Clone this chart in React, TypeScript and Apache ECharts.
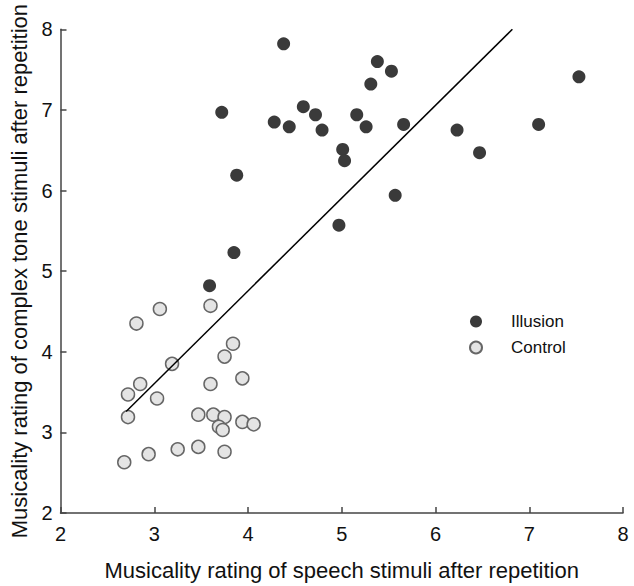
import React, { useEffect, useRef } from "react";
import * as echarts from "echarts";

const illusion: [number, number][] = [
  [4.38, 7.82], [5.38, 7.6], [5.53, 7.48], [5.31, 7.32], [3.72, 6.97],
  [4.59, 7.04], [4.72, 6.94], [5.16, 6.94], [4.28, 6.85], [4.44, 6.79],
  [4.79, 6.75], [5.26, 6.79], [5.66, 6.82], [5.01, 6.51], [5.03, 6.37],
  [3.88, 6.19], [5.57, 5.94], [4.97, 5.57], [7.53, 7.41], [6.23, 6.75],
  [7.1, 6.82], [6.47, 6.47], [3.85, 5.23], [3.59, 4.82],
];

const control: [number, number][] = [
  [3.6, 4.57], [3.06, 4.53], [2.81, 4.35], [3.84, 4.1], [3.75, 3.94],
  [3.19, 3.85], [3.94, 3.67], [2.85, 3.6], [3.6, 3.6], [2.72, 3.47],
  [3.03, 3.42], [2.72, 3.19], [3.47, 3.22], [3.63, 3.22], [3.75, 3.19],
  [3.69, 3.07], [3.73, 3.03], [3.94, 3.13], [4.06, 3.1], [3.47, 2.82],
  [3.25, 2.79], [2.94, 2.73], [3.75, 2.76], [2.68, 2.63],
];

const fitLine: [number, number][] = [
  [2.7, 3.26],
  [6.82, 8.0],
];

const xTitle = "Musicality rating of speech stimuli after repetition";
const yTitle = "Musicality rating of complex tone stimuli after repetition";

export default function App() {
  const ref = useRef<HTMLDivElement>(null);
  useEffect(() => {
    document.body.style.margin = "0";
    if (!ref.current) return;
    const chart = echarts.init(ref.current, null, { renderer: "svg" });
    const font = "Liberation Sans, Arial, sans-serif";
    const axisCommon = {
      min: 2,
      max: 8,
      interval: 1,
      splitLine: { show: false },
      axisLine: { show: true, onZero: false, lineStyle: { color: "#444", width: 1.5 } },
      axisTick: { show: true, inside: true, length: 6, lineStyle: { color: "#444", width: 1.5 } },
      nameLocation: "middle" as const,
      nameTextStyle: { fontFamily: font, fontSize: 22, color: "#111" },
    };
    chart.setOption({
      animation: false,
      backgroundColor: "#fff",
      grid: { left: 60.5, right: 11, top: 29.3, bottom: 62, containLabel: false },
      xAxis: {
        type: "value",
        ...axisCommon,
        name: xTitle,
        nameGap: 46,
        axisLabel: { margin: 11, fontFamily: font, fontSize: 20, color: "#111" },
      },
      yAxis: {
        type: "value",
        ...axisCommon,
        name: yTitle,
        nameGap: 27,
        axisLabel: { margin: 8, fontFamily: font, fontSize: 20, color: "#111" },
      },
      legend: {
        orient: "vertical",
        left: 464,
        top: 308,
        itemWidth: 12,
        itemHeight: 12,
        itemGap: 9,
        textStyle: { fontFamily: font, fontSize: 17, color: "#111", padding: [0, 0, 0, 24] },
        data: ["Illusion", "Control"],
      },
      series: [
        {
          name: "Illusion",
          type: "scatter",
          symbol: "circle",
          symbolSize: 13,
          itemStyle: { color: "#3a3a3a", opacity: 1 },
          data: illusion,
          z: 2,
        },
        {
          name: "Control",
          type: "scatter",
          symbol: "circle",
          symbolSize: 13,
          itemStyle: { color: "#e4e4e4", borderColor: "#666", borderWidth: 1.5, opacity: 1 },
          data: control,
          z: 2,
        },
        {
          name: "fit",
          type: "line",
          data: fitLine,
          showSymbol: false,
          symbol: "none",
          lineStyle: { color: "#000", width: 1.5 },
          z: 3,
          silent: true,
        },
      ],
    });
    return () => chart.dispose();
  }, []);
  return (
    <div
      ref={ref}
      style={{ position: "fixed", left: 0, top: 0, width: 634, height: 586 }}
    />
  );
}
